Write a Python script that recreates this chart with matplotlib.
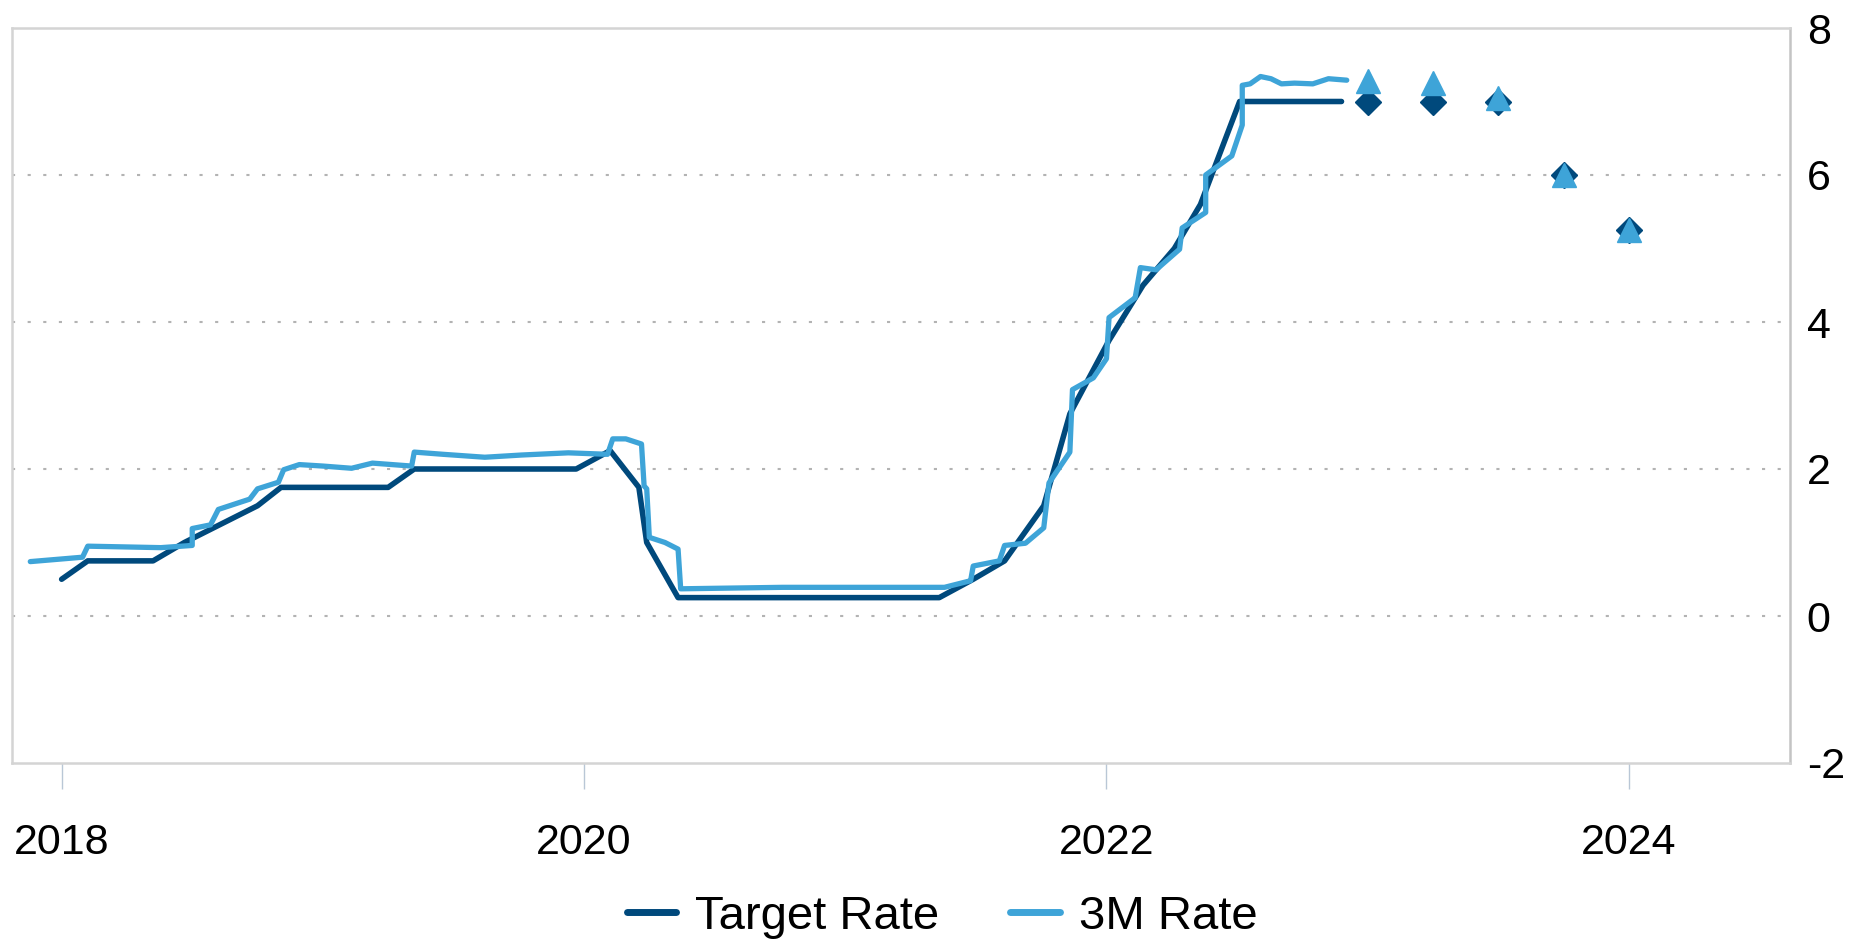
import matplotlib
matplotlib.use("Agg")
import matplotlib.pyplot as plt

plt.rcParams['font.family'] = ['Liberation Sans', 'DejaVu Sans']
plt.rcParams['axes.unicode_minus'] = False

# colours
DARK = '#00497c'
LIGHT = '#3ea4d8'

# Target rate (decimal year, %)
target_x = [2018.00, 2018.10, 2018.35, 2018.47, 2018.61, 2018.75, 2018.84, 2019.25,
            2019.35, 2019.97, 2020.10, 2020.21, 2020.24, 2020.36, 2021.36, 2021.49,
            2021.61, 2021.76, 2021.86, 2022.01, 2022.14, 2022.26, 2022.36, 2022.51,
            2022.90]
target_y = [0.50, 0.75, 0.75, 1.00, 1.25, 1.50, 1.75, 1.75,
            2.00, 2.00, 2.25, 1.75, 1.00, 0.25, 0.25, 0.50,
            0.75, 1.50, 2.75, 3.75, 4.50, 5.00, 5.60, 7.00,
            7.00]

# 3M rate (decimal year, %)
m3_x = [2017.88, 2018.08, 2018.10, 2018.38, 2018.50, 2018.50, 2018.57, 2018.60,
        2018.72, 2018.75, 2018.83, 2018.85, 2018.91, 2019.00, 2019.11, 2019.19,
        2019.34, 2019.35, 2019.46, 2019.62, 2019.76, 2019.94, 2020.09, 2020.11,
        2020.16, 2020.22, 2020.23, 2020.24, 2020.25, 2020.31, 2020.36, 2020.37,
        2020.76, 2021.38, 2021.48, 2021.49, 2021.59, 2021.61, 2021.69, 2021.76,
        2021.78, 2021.86, 2021.87, 2021.95, 2022.00, 2022.01, 2022.11, 2022.13,
        2022.19, 2022.28, 2022.29, 2022.38, 2022.38, 2022.48, 2022.52, 2022.52,
        2022.55, 2022.59, 2022.63, 2022.67, 2022.72, 2022.79, 2022.85, 2022.92]
m3_y = [0.74, 0.80, 0.95, 0.93, 0.96, 1.19, 1.24, 1.45,
        1.59, 1.73, 1.82, 1.99, 2.06, 2.04, 2.01, 2.08,
        2.04, 2.23, 2.20, 2.16, 2.19, 2.22, 2.20, 2.41,
        2.41, 2.34, 1.77, 1.73, 1.07, 1.00, 0.91, 0.37,
        0.39, 0.39, 0.48, 0.68, 0.75, 0.96, 0.99, 1.20,
        1.81, 2.23, 3.08, 3.24, 3.50, 4.06, 4.33, 4.74,
        4.71, 4.99, 5.28, 5.49, 6.00, 6.26, 6.68, 7.22,
        7.24, 7.34, 7.31, 7.24, 7.25, 7.24, 7.31, 7.29]

# forecasts
fc_x = [2023.00, 2023.25, 2023.50, 2023.75, 2024.00]
target_fc = [7.00, 7.00, 7.00, 6.00, 5.25]
m3_fc = [7.28, 7.25, 7.05, 6.00, 5.25]

year_ticks = [2018, 2020, 2022, 2024]
y_ticks = [-2, 0, 2, 4, 6, 8]

fig = plt.figure(figsize=(18.5, 9.43), dpi=100)
ax = fig.add_axes([12 / 1850, 1 - 763 / 943, (1790 - 12) / 1850, (763 - 28) / 943])

ax.plot(target_x, target_y, color=DARK, lw=4, solid_capstyle='round', solid_joinstyle='round',
        label='Target Rate', zorder=3)
ax.plot(m3_x, m3_y, color=LIGHT, lw=3.8, solid_capstyle='round', solid_joinstyle='round',
        label='3M Rate', zorder=4)
ax.plot(fc_x, target_fc, 'D', color=DARK, ms=13, zorder=5)
ax.plot(fc_x, m3_fc, '^', color=LIGHT, ms=17, zorder=6)

ax.set_xlim(2017.81, 2024.617)
ax.set_ylim(-2, 8)

ax.set_xticks(year_ticks)
ax.set_xticklabels([str(y) for y in year_ticks])
ax.set_yticks(y_ticks)
ax.yaxis.tick_right()
ax.tick_params(axis='y', length=0, pad=12, labelsize=31)
ax.tick_params(axis='x', length=19, width=1, color='#b9c7d6', direction='out', pad=24, labelsize=31)

for v in [0, 2, 4, 6]:
    ax.axhline(v, color='#b3b3b3', lw=1.5, ls=(0, (1.5, 6)), zorder=1)

for s in ax.spines.values():
    s.set_color('#d4d4d4')
    s.set_linewidth(1.8)
ax.spines['right'].set_color('#c4c4c4')

leg = fig.legend(loc='center', bbox_to_anchor=(942 / 1850, 1 - 917 / 943), ncol=2, frameon=False,
                 fontsize=34, handlelength=1.05, handletextpad=0.4, columnspacing=1.5)
for h in leg.legend_handles:
    h.set_linewidth(5)

fig.savefig('out.png', dpi=100)
